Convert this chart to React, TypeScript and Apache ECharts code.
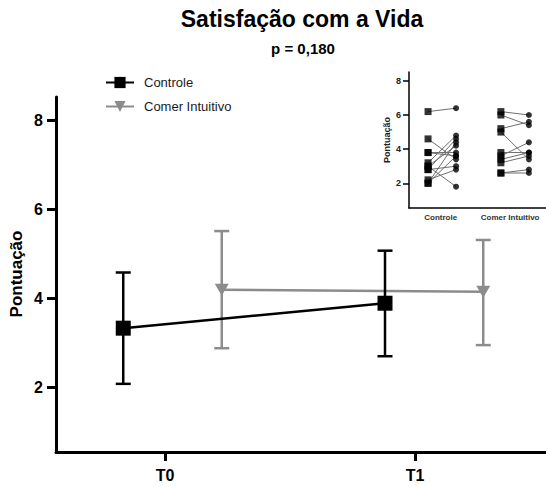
import React, { useEffect, useRef } from 'react';
import * as echarts from 'echarts';

// ---- data ----
const timeLabels = ['T0', 'T1'];
const timeTicks = [0, 1];
const groupNames = ['Controle', 'Comer Intuitivo'];
const yTicks = [2, 4, 6, 8];

// main panel: dodged x positions, means and error-bar ends
const controleX = [-0.167, 0.88];
const controleMean = [3.33, 3.89];
const controleLow = [2.08, 2.7];
const controleHigh = [4.58, 5.07];
const comerX = [0.227, 1.273];
const comerMean = [4.19, 4.15];
const comerLow = [2.88, 2.95];
const comerHigh = [5.51, 5.31];

// inset: individual scores before/after
const insetGroupX = [0.45, 2.93];
const insetControleX = [0, 1];
const insetComerX = [2.6, 3.6];
const controlePre = [6.2, 4.6, 3.8, 3.2, 3.0, 3.0, 2.8, 2.8, 2.2, 2.0, 2.0, 3.8];
const controlePost = [6.4, 3.4, 3.8, 4.8, 1.8, 4.2, 3.0, 4.6, 2.8, 3.6, 4.4, 3.6];
const comerPre = [6.2, 6.0, 5.2, 5.0, 3.8, 3.6, 3.4, 3.2, 2.6, 2.6];
const comerPost = [6.0, 5.4, 5.6, 3.4, 3.8, 4.4, 3.8, 3.6, 2.8, 2.6];

const FONT = '"Liberation Sans", Arial, sans-serif';
const BLACK = '#000000';
const GRAY = '#8c8c8c';
const TRI = 'path://M0,0L14,0L7,12Z';

function errorBarRender(color: string) {
  return (params: any, api: any) => {
    const x = api.value(0);
    const p1 = api.coord([x, api.value(1)]);
    const p2 = api.coord([x, api.value(2)]);
    const w = 7.5;
    const st = { stroke: color, lineWidth: 2.5 };
    return {
      type: 'group',
      children: [
        { type: 'line', shape: { x1: p1[0], y1: p1[1], x2: p2[0], y2: p2[1] }, style: st },
        { type: 'line', shape: { x1: p1[0] - w, y1: p1[1], x2: p1[0] + w, y2: p1[1] }, style: st },
        { type: 'line', shape: { x1: p2[0] - w, y1: p2[1], x2: p2[0] + w, y2: p2[1] }, style: st },
      ],
    };
  };
}

function pairRender(params: any, api: any) {
  const a = api.coord([api.value(0), api.value(1)]);
  const b = api.coord([api.value(2), api.value(3)]);
  return {
    type: 'line',
    shape: { x1: a[0], y1: a[1], x2: b[0], y2: b[1] },
    style: { stroke: '#6e6e6e', lineWidth: 1 },
  };
}

export default function App() {
  const ref = useRef<HTMLDivElement>(null);
  useEffect(() => {
    if (!ref.current) return;
    const chart = echarts.init(ref.current, undefined, { renderer: 'svg' });

    const pairs = [
      ...controlePre.map((v, i) => [insetControleX[0], v, insetControleX[1], controlePost[i]]),
      ...comerPre.map((v, i) => [insetComerX[0], v, insetComerX[1], comerPost[i]]),
    ];

    chart.setOption({
      animation: false,
      textStyle: { fontFamily: FONT },
      legend: {
        data: groupNames,
        orient: 'vertical',
        left: 100,
        top: 71,
        itemWidth: 28,
        itemHeight: 14,
        itemGap: 11,
        textStyle: { fontSize: 13, color: '#1a1a1a', fontFamily: FONT, padding: [0, 0, 0, 5] },
      },
      grid: [
        { left: 56, right: 0, top: 97, bottom: 35, containLabel: false },
        { left: 409, width: 137, top: 72, height: 136, containLabel: false },
      ],
      xAxis: [
        {
          type: 'value',
          gridIndex: 0,
          min: -0.436,
          max: 1.524,
          axisLine: { show: true, onZero: false, lineStyle: { color: BLACK, width: 3 } },
          axisTick: { show: true, customValues: timeTicks, length: 9, lineStyle: { color: BLACK, width: 3 } },
          axisLabel: {
            show: true,
            customValues: timeTicks,
            formatter: (v: number) => timeLabels[Math.round(v)],
            fontSize: 16,
            fontWeight: 'bold',
            color: BLACK,
            fontFamily: FONT,
            margin: 15,
          },
          splitLine: { show: false },
        },
        {
          type: 'value',
          gridIndex: 1,
          min: -0.68,
          max: 4.21,
          axisLine: { show: true, onZero: false, lineStyle: { color: BLACK, width: 1.5 } },
          axisTick: { show: false },
          axisLabel: {
            show: true,
            customValues: insetGroupX,
            formatter: (v: number) => (v < 1.5 ? groupNames[0] : groupNames[1]),
            fontSize: 8,
            fontWeight: 'bold',
            color: '#333',
            fontFamily: FONT,
            margin: 5,
          },
          splitLine: { show: false },
        },
      ],
      yAxis: [
        {
          type: 'value',
          gridIndex: 0,
          min: 0.55,
          max: 8.52,
          axisLine: { show: true, onZero: false, lineStyle: { color: BLACK, width: 3 } },
          axisTick: { show: true, customValues: yTicks, length: 9, lineStyle: { color: BLACK, width: 3 } },
          axisLabel: {
            show: true,
            customValues: yTicks,
            fontSize: 16,
            fontWeight: 'bold',
            color: BLACK,
            fontFamily: FONT,
            margin: 13,
          },
          splitLine: { show: false },
        },
        {
          type: 'value',
          gridIndex: 1,
          min: 0.55,
          max: 8.52,
          axisLine: { show: true, onZero: false, lineStyle: { color: BLACK, width: 1.5 } },
          axisTick: { show: true, customValues: yTicks, length: 6, lineStyle: { color: BLACK, width: 1.5 } },
          axisLabel: {
            show: true,
            customValues: yTicks,
            fontSize: 9,
            fontWeight: 'bold',
            color: '#222',
            fontFamily: FONT,
            margin: 8,
          },
          splitLine: { show: false },
        },
      ],
      graphic: [
        {
          type: 'text',
          x: 302,
          y: 19,
          style: {
            text: 'Satisfação com a Vida',
            font: `bold 23px ${FONT}`,
            fill: BLACK,
            align: 'center',
            verticalAlign: 'middle',
          },
        },
        {
          type: 'text',
          x: 303,
          y: 48,
          style: {
            text: 'p = 0,180',
            font: `bold 15px ${FONT}`,
            fill: BLACK,
            align: 'center',
            verticalAlign: 'middle',
          },
        },
        {
          type: 'text',
          x: 16,
          y: 274,
          rotation: Math.PI / 2,
          style: {
            text: 'Pontuação',
            font: `bold 17px ${FONT}`,
            fill: BLACK,
            align: 'center',
            verticalAlign: 'middle',
          },
        },
        {
          type: 'text',
          x: 387,
          y: 140,
          rotation: Math.PI / 2,
          style: {
            text: 'Pontuação',
            font: `bold 9px ${FONT}`,
            fill: '#222',
            align: 'center',
            verticalAlign: 'middle',
          },
        },
      ],
      series: [
        {
          name: 'Comer Intuitivo err',
          type: 'custom',
          xAxisIndex: 0,
          yAxisIndex: 0,
          renderItem: errorBarRender(GRAY),
          data: comerX.map((x, i) => [x, comerLow[i], comerHigh[i]]),
          z: 1,
        },
        {
          name: groupNames[1],
          type: 'line',
          xAxisIndex: 0,
          yAxisIndex: 0,
          data: comerX.map((x, i) => [x, comerMean[i]]),
          symbol: TRI,
          symbolSize: [14, 12],
          symbolKeepAspect: false,
          lineStyle: { color: GRAY, width: 2.5 },
          itemStyle: { color: GRAY, borderWidth: 0 },
          z: 2,
        },
        {
          name: 'Controle err',
          type: 'custom',
          xAxisIndex: 0,
          yAxisIndex: 0,
          renderItem: errorBarRender(BLACK),
          data: controleX.map((x, i) => [x, controleLow[i], controleHigh[i]]),
          z: 3,
        },
        {
          name: groupNames[0],
          type: 'line',
          xAxisIndex: 0,
          yAxisIndex: 0,
          data: controleX.map((x, i) => [x, controleMean[i]]),
          symbol: 'rect',
          symbolSize: 15,
          lineStyle: { color: BLACK, width: 2.5 },
          itemStyle: { color: BLACK, borderWidth: 0 },
          z: 4,
        },
        {
          name: 'pairs',
          type: 'custom',
          xAxisIndex: 1,
          yAxisIndex: 1,
          renderItem: pairRender,
          data: pairs,
          z: 5,
        },
        {
          name: 'pre',
          type: 'scatter',
          xAxisIndex: 1,
          yAxisIndex: 1,
          symbol: 'rect',
          symbolSize: 7,
          itemStyle: { color: BLACK },
          data: [
            ...controlePre.map((v) => [insetControleX[0], v]),
            ...comerPre.map((v) => [insetComerX[0], v]),
          ],
          z: 6,
        },
        {
          name: 'post',
          type: 'scatter',
          xAxisIndex: 1,
          yAxisIndex: 1,
          symbol: 'circle',
          symbolSize: 6,
          itemStyle: { color: BLACK },
          data: [
            ...controlePost.map((v) => [insetControleX[1], v]),
            ...comerPost.map((v) => [insetComerX[1], v]),
          ],
          z: 6,
        },
      ],
    });
    return () => chart.dispose();
  }, []);
  return (
    <div
      ref={ref}
      style={{ position: 'fixed', left: 0, top: 0, width: 546, height: 487, background: '#fff' }}
    />
  );
}
